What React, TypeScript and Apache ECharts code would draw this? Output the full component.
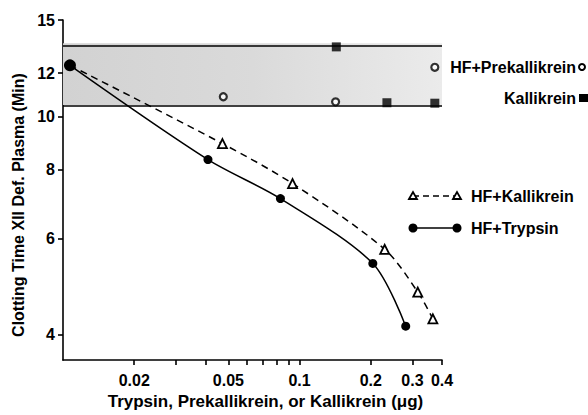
import React, { useEffect, useRef } from "react";
import * as echarts from "echarts";

// Axis ranges and ticks (raw values, log axes)
const X_RANGE = [0.01, 0.4];
const Y_RANGE = [3.6, 15];
const X_TICKS = [0.02, 0.03, 0.04, 0.05, 0.06, 0.07, 0.08, 0.09, 0.1, 0.2, 0.3, 0.4];
const X_LABELS = [0.02, 0.05, 0.1, 0.2, 0.3, 0.4];
const Y_TICKS = [4, 6, 8, 10, 12, 15];

// Normal range band (clotting time, min)
const BAND = [10.5, 13.6];

// HF+Trypsin
const trypsinX = [0.0107, 0.041, 0.083, 0.204, 0.281];
const trypsinY = [12.4, 8.35, 7.09, 5.4, 4.15];
// HF+Kallikrein
const hfKallX = [0.0107, 0.0472, 0.0934, 0.229, 0.316, 0.366];
const hfKallY = [12.4, 8.93, 7.55, 5.73, 4.79, 4.28];
// HF+Prekallikrein
const prekX = [0.0476, 0.142, 0.373];
const prekY = [10.87, 10.64, 12.3];
// Kallikrein
const kallX = [0.143, 0.234, 0.373];
const kallY = [13.4, 10.6, 10.58];

const L = (v: number) => Math.log10(v);
const FONT = "'Liberation Sans', Arial, sans-serif";
const pair = (xs: number[], ys: number[]) => xs.map((x, i) => [L(x), L(ys[i])]);
const findLabel = (arr: number[], v: number) => {
  const hit = arr.find((a) => Math.abs(L(a) - v) < 1e-6);
  return hit === undefined ? "" : String(hit);
};

export default function App() {
  const ref = useRef<HTMLDivElement>(null);
  useEffect(() => {
    if (!ref.current) return;
    const chart = echarts.init(ref.current, undefined, { renderer: "svg" });
    const textStyle = { fontFamily: FONT, fontWeight: "bold" as const, fontSize: 16, color: "#000" };
    const axisLine = { show: true, lineStyle: { color: "#000", width: 1.6 } };
    const gfont = `bold 16px ${FONT}`;
    const option: any = {
      animation: false,
      backgroundColor: "#fff",
      grid: { left: 63, top: 20, right: 146, bottom: 54 },
      xAxis: {
        type: "value",
        min: L(X_RANGE[0]),
        max: L(X_RANGE[1]),
        axisLine,
        splitLine: { show: false },
        axisTick: {
          show: true,
          length: 5,
          customValues: X_TICKS.map(L),
          lineStyle: { color: "#000", width: 1.6 },
        },
        axisLabel: {
          customValues: X_LABELS.map(L),
          formatter: (v: number) => findLabel(X_LABELS, v),
          margin: 12,
          ...textStyle,
        },
        name: "Trypsin, Prekallikrein, or Kallikrein (\u03bcg)",
        nameLocation: "middle",
        nameGap: 30,
        nameTextStyle: { ...textStyle, fontSize: 17, padding: [0, 0, 0, 26] },
      },
      yAxis: {
        type: "value",
        min: L(Y_RANGE[0]),
        max: L(Y_RANGE[1]),
        axisLine,
        splitLine: { show: false },
        axisTick: {
          show: true,
          length: 5,
          customValues: Y_TICKS.map(L),
          lineStyle: { color: "#000", width: 1.6 },
        },
        axisLabel: {
          customValues: Y_TICKS.map(L),
          formatter: (v: number) => findLabel(Y_TICKS, v),
          margin: 8,
          ...textStyle,
        },
        name: "Clotting Time XII Def. Plasma (Min)",
        nameLocation: "middle",
        nameGap: 37,
        nameTextStyle: { ...textStyle, fontSize: 16, padding: [0, 30, 0, 0] },
      },
      series: [
        {
          type: "line",
          data: [],
          z: 1,
          markArea: {
            silent: true,
            itemStyle: {
              color: new echarts.graphic.LinearGradient(0, 0, 1, 0, [
                { offset: 0, color: "#d2d2d2" },
                { offset: 0.5, color: "#dadada" },
                { offset: 1, color: "#ebebeb" },
              ]),
              borderWidth: 0,
            },
            data: [[{ xAxis: L(X_RANGE[0]), yAxis: L(BAND[0]) }, { xAxis: L(X_RANGE[1]), yAxis: L(BAND[1]) }]],
          },
          markLine: {
            silent: true,
            symbol: "none",
            label: { show: false },
            lineStyle: { color: "#000", width: 1.6, type: "solid" },
            data: [{ yAxis: L(BAND[0]) }, { yAxis: L(BAND[1]) }],
          },
        },
        {
          name: "HF+Kallikrein",
          type: "line",
          z: 4,
          smooth: 0.3,
          data: pair(hfKallX, hfKallY).map((d, i) =>
            i === 0 ? { value: d, symbol: "none" } : { value: d }
          ),
          symbol: "triangle",
          symbolSize: 9,
          itemStyle: { color: "#fff", borderColor: "#000", borderWidth: 1.8 },
          lineStyle: { color: "#000", width: 1.5, type: [7, 5] },
        },
        {
          name: "HF+Trypsin",
          type: "line",
          z: 5,
          smooth: 0.3,
          data: pair(trypsinX, trypsinY).map((d, i) =>
            i === 0 ? { value: d, symbolSize: 12 } : { value: d }
          ),
          symbol: "circle",
          symbolSize: 9,
          itemStyle: { color: "#000" },
          lineStyle: { color: "#000", width: 1.5 },
        },
        {
          name: "HF+Prekallikrein",
          type: "scatter",
          z: 5,
          data: pair(prekX, prekY),
          symbol: "circle",
          symbolSize: 7,
          itemStyle: { color: "#fff", borderColor: "#000", borderWidth: 2.2 },
        },
        {
          name: "Kallikrein",
          type: "scatter",
          z: 5,
          data: pair(kallX, kallY),
          symbol: "rect",
          symbolSize: 9,
          itemStyle: { color: "#000" },
        },
      ],
      graphic: [
        { type: "text", x: 576, y: 67, z: 100, style: { text: "HF+Prekallikrein", align: "right", verticalAlign: "middle", font: gfont, fill: "#000" } },
        { type: "circle", shape: { cx: 582, cy: 67, r: 3 }, style: { fill: "#fff", stroke: "#000", lineWidth: 2 } },
        { type: "text", x: 576, y: 98, z: 100, style: { text: "Kallikrein", align: "right", verticalAlign: "middle", font: gfont, fill: "#000" } },
        { type: "rect", shape: { x: 579, y: 94, width: 9, height: 8 }, style: { fill: "#000" } },
        { type: "line", shape: { x1: 413, y1: 196, x2: 457, y2: 196 }, style: { stroke: "#000", lineWidth: 1.5, lineDash: [6, 4] } },
        { type: "polygon", shape: { points: [[409, 199], [413, 192], [417, 199]] }, style: { fill: "#fff", stroke: "#000", lineWidth: 1.8 } },
        { type: "polygon", shape: { points: [[453, 199], [457, 192], [461, 199]] }, style: { fill: "#fff", stroke: "#000", lineWidth: 1.8 } },
        { type: "text", x: 471, y: 196, style: { text: "HF+Kallikrein", verticalAlign: "middle", font: gfont, fill: "#000" } },
        { type: "line", shape: { x1: 413, y1: 228, x2: 457, y2: 228 }, style: { stroke: "#000", lineWidth: 1.5 } },
        { type: "circle", shape: { cx: 413, cy: 228, r: 4.5 }, style: { fill: "#000" } },
        { type: "circle", shape: { cx: 457, cy: 228, r: 4.5 }, style: { fill: "#000" } },
        { type: "text", x: 471, y: 228, style: { text: "HF+Trypsin", verticalAlign: "middle", font: gfont, fill: "#000" } },
      ],
    };
    chart.setOption(option);
    return () => chart.dispose();
  }, []);
  return <div ref={ref} style={{ position: "fixed", left: 0, top: 0, width: 588, height: 415 }} />;
}
